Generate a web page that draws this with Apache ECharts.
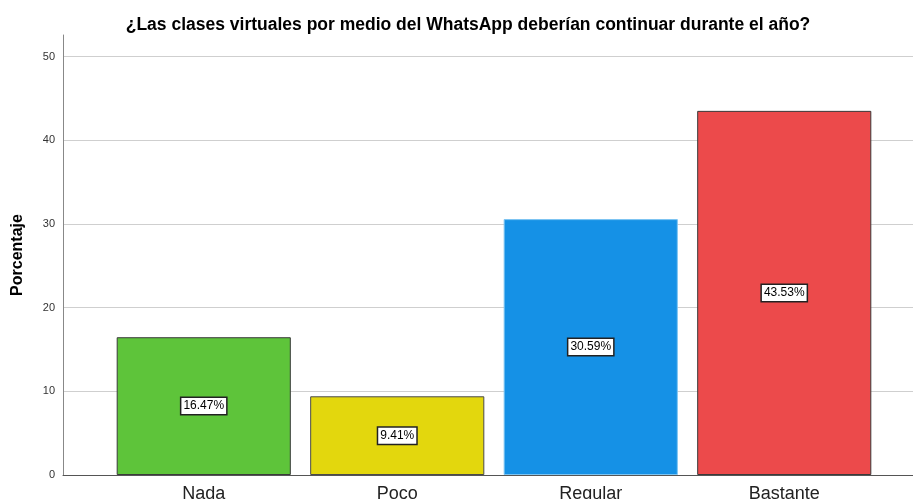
<!DOCTYPE html>
<html>
<head>
<meta charset="utf-8">
<script src="https://cdn.jsdelivr.net/npm/echarts@6/dist/echarts.min.js"></script>
<style>
    html, body { margin: 0; padding: 0; background: #fff; }
    #chart { width: 913px; height: 499px; }
</style>
</head>
<body>
<div id="chart"></div>
<script>
    let categories = ['Nada', 'Poco', 'Regular', 'Bastante'];
    let values = [16.47, 9.41, 30.59, 43.53];
    let colorList = ['#5EC43A', '#E3D70D', '#1591E6', '#EC4A4B'];
    let borderList = ['#3a3a3a', '#4a4a4a', '#7cc4f2', '#3a3a3a'];
    let yMax = 52.6;

    let myChart = echarts.init(document.getElementById('chart'));

    let option = {
        backgroundColor: '#fff',
        animation: false,
        title: {
            text: '¿Las clases virtuales por medio del WhatsApp deberían continuar durante el año?',
            left: 463,
            top: 11,
            textAlign: 'center',
            textStyle: {
                fontFamily: 'Liberation Sans, Arial',
                fontSize: 17.5,
                fontWeight: 'bold',
                color: '#000'
            }
        },
        grid: [
            // y axis, gridlines and baseline over the full width
            { left: 63, right: 0, top: 35, bottom: 24, outerBoundsMode: 'none' },
            // bars
            { left: 107, right: 32, top: 35, bottom: 24, outerBoundsMode: 'none' }
        ],
        xAxis: [{
            gridIndex: 0,
            type: 'value',
            axisLine: { show: true, onZero: false, lineStyle: { color: '#555', width: 1 } },
            axisTick: { show: false },
            axisLabel: { show: false },
            splitLine: { show: false }
        }, {
            gridIndex: 1,
            type: 'category',
            data: categories,
            axisTick: { show: false },
            axisLine: { show: false },
            axisLabel: {
                margin: 10,
                fontFamily: 'Liberation Sans, Arial',
                fontSize: 18,
                color: '#222'
            }
        }],
        yAxis: [{
            gridIndex: 0,
            type: 'value',
            min: 0,
            max: yMax,
            interval: 10,
            name: 'Porcentaje',
            nameLocation: 'middle',
            nameGap: 37,
            nameTextStyle: {
                fontFamily: 'Liberation Sans, Arial',
                fontSize: 16,
                fontWeight: 'bold',
                color: '#000'
            },
            axisLine: { show: true, lineStyle: { color: '#888', width: 1 } },
            axisTick: { show: false },
            axisLabel: {
                showMaxLabel: false,
                margin: 8,
                fontFamily: 'Liberation Sans, Arial',
                fontSize: 11,
                color: '#333',
                formatter: function (v) {
                    return v % 10 === 0 ? v : '';
                }
            },
            splitLine: {
                show: true,
                showMinLine: false,
                showMaxLine: false,
                lineStyle: { color: '#cfcfcf', width: 1 }
            }
        }, {
            gridIndex: 1,
            type: 'value',
            min: 0,
            max: yMax,
            show: false,
            splitLine: { show: false }
        }],
        series: [{
            type: 'bar',
            xAxisIndex: 1,
            yAxisIndex: 1,
            barCategoryGap: '10%',
            data: values.map((v, i) => {
                return {
                    value: v,
                    itemStyle: {
                        color: colorList[i],
                        borderColor: borderList[i],
                        borderWidth: 1
                    }
                }
            }),
            label: {
                show: true,
                position: 'inside',
                formatter: function (p) {
                    return p.value.toFixed(2) + '%';
                },
                fontFamily: 'Liberation Sans, Arial',
                fontSize: 12,
                color: '#000',
                backgroundColor: '#fff',
                borderColor: '#222',
                borderWidth: 1.5,
                padding: [3, 2, 1, 2]
            }
        }]
    };
    myChart.setOption(option);
</script>
</body>
</html>
